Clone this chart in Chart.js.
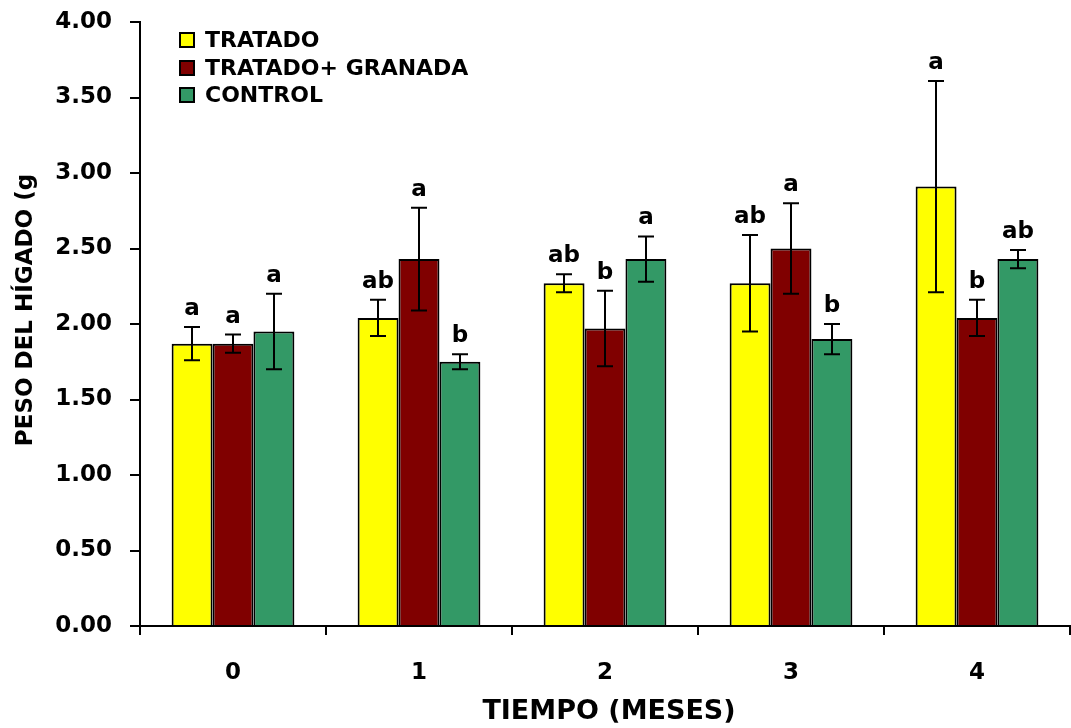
<!DOCTYPE html>
<html><head><meta charset="utf-8">
<script src="https://cdn.jsdelivr.net/npm/chart.js@4"></script>
<style>html,body{margin:0;padding:0;background:#fff}#wrap{width:1071px;height:728px}</style>
</head><body><div id="wrap"><canvas id="c" width="1071" height="728"></canvas></div>
<script>
const categories = ['0', '1', '2', '3', '4'];
const seriesNames = ['TRATADO', 'TRATADO+ GRANADA', 'CONTROL'];
const tratado = [1.87, 2.04, 2.27, 2.27, 2.91];
const tratadoErr = [0.11, 0.12, 0.06, 0.32, 0.70];
const tratadoLetters = ['a', 'ab', 'ab', 'ab', 'a'];
const granada = [1.87, 2.43, 1.97, 2.50, 2.04];
const granadaErr = [0.06, 0.34, 0.25, 0.30, 0.12];
const granadaLetters = ['a', 'a', 'b', 'a', 'b'];
const control = [1.95, 1.75, 2.43, 1.90, 2.43];
const controlErr = [0.25, 0.05, 0.15, 0.10, 0.06];
const controlLetters = ['a', 'b', 'a', 'b', 'ab'];
const yTicks = [0, 0.5, 1, 1.5, 2, 2.5, 3, 3.5, 4];
const xTitle = 'TIEMPO (MESES)';
const yTitle = 'PESO DEL HÍGADO (g';

const colors = ['#FFFF00', '#800000', '#339966'];
const errs = [tratadoErr, granadaErr, controlErr];
const letters = [tratadoLetters, granadaLetters, controlLetters];
const FONT = '"DejaVu Sans", "Liberation Sans", Arial, sans-serif';

const errPlugin = {
  id: 'errbars',
  afterDatasetsDraw(chart) {
    const ctx = chart.ctx, y = chart.scales.y, ca = chart.chartArea;
    ctx.save();
    ctx.strokeStyle = '#000'; ctx.lineWidth = 2; ctx.fillStyle = '#000';
    ctx.font = 'bold 23px ' + FONT; ctx.textAlign = 'center'; ctx.textBaseline = 'alphabetic';
    chart.data.datasets.forEach((ds, i) => {
      chart.getDatasetMeta(i).data.forEach((bar, j) => {
        const v = ds.data[j], e = errs[i][j];
        const yt = y.getPixelForValue(v + e), yb = y.getPixelForValue(v - e);
        const x = Math.round(bar.x);
        ctx.beginPath();
        ctx.moveTo(x, yt); ctx.lineTo(x, yb);
        ctx.moveTo(x - 8, yt); ctx.lineTo(x + 8, yt);
        ctx.moveTo(x - 8, yb); ctx.lineTo(x + 8, yb);
        ctx.stroke();
        ctx.fillText(letters[i][j], x, yt - 12);
      });
    });
    // legend
    const lx = 180, ly = [40, 68, 95];
    ctx.font = 'bold 22px ' + FONT; ctx.textAlign = 'left'; ctx.textBaseline = 'middle';
    seriesNames.forEach((n, i) => {
      ctx.fillStyle = colors[i];
      ctx.fillRect(lx, ly[i] - 7, 14, 14);
      ctx.strokeStyle = '#000'; ctx.lineWidth = 2;
      ctx.strokeRect(lx, ly[i] - 7, 14, 14);
      ctx.fillStyle = '#000';
      ctx.fillText(n, lx + 25, ly[i] + 1);
    });
    // axis titles
    ctx.font = 'bold 27px ' + FONT; ctx.textAlign = 'center'; ctx.textBaseline = 'middle';
    ctx.fillText(xTitle, (ca.left + ca.right) / 2 + 4, 712);
    ctx.save();
    ctx.translate(26, 310); ctx.rotate(-Math.PI / 2);
    ctx.font = 'bold 23px ' + FONT;
    ctx.fillText(yTitle, 0, 0);
    ctx.restore();
    ctx.restore();
  }
};

new Chart(document.getElementById('c'), {
  type: 'bar',
  data: {
    labels: categories,
    datasets: [
      { label: seriesNames[0], data: tratado, backgroundColor: colors[0] },
      { label: seriesNames[1], data: granada, backgroundColor: colors[1] },
      { label: seriesNames[2], data: control, backgroundColor: colors[2] }
    ].map(d => Object.assign(d, { borderColor: '#000', borderWidth: 2, categoryPercentage: 0.66, barPercentage: 1 }))
  },
  options: {
    responsive: false, animation: false,
    layout: { padding: { top: 22, right: 1, left: 0, bottom: 0 } },
    plugins: { legend: { display: false }, tooltip: { enabled: false } },
    scales: {
      x: {
        grid: { display: true, drawOnChartArea: false, offset: true, tickLength: 9, color: '#000', lineWidth: 2 },
        border: { color: '#000', width: 2 },
        ticks: { color: '#000', font: { family: FONT, size: 23, weight: 'bold' }, padding: 24 },
        afterFit(s) { s.height = 102; s.paddingLeft = 0; s.paddingRight = 0; }
      },
      y: {
        min: 0, max: 4,
        afterBuildTicks(s) { s.ticks = yTicks.map(v => ({ value: v })); },
        grid: { display: true, drawOnChartArea: false, tickLength: 10, color: '#000', lineWidth: 2 },
        border: { color: '#000', width: 2 },
        ticks: { color: '#000', font: { family: FONT, size: 23, weight: 'bold' }, padding: 18, callback: v => Number(v).toFixed(2) },
        afterFit(s) { s.width = 140; s.paddingTop = 0; s.paddingBottom = 0; }
      }
    }
  },
  plugins: [errPlugin]
});
</script></body></html>
